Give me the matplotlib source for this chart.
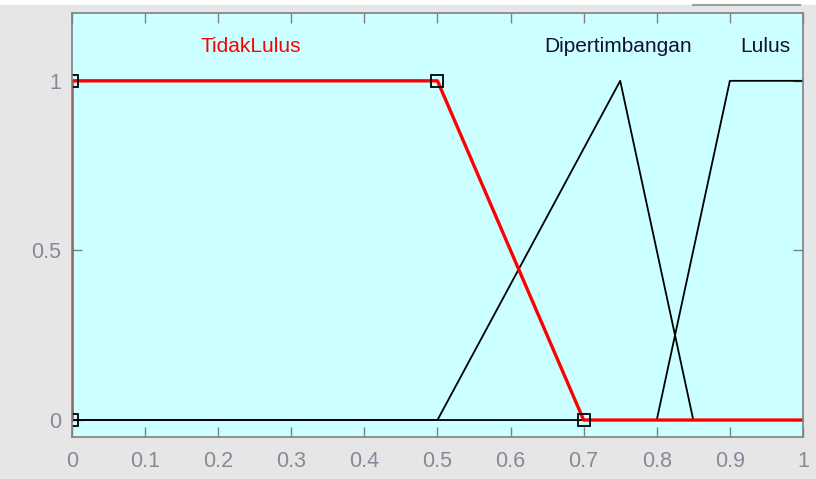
import matplotlib.pyplot as plt
from matplotlib.lines import Line2D

# membership function vertices (x, mu)
tidak_x = [0.0, 0.0, 0.5, 0.7, 1.0]
tidak_y = [0.0, 1.0, 1.0, 0.0, 0.0]
dipert_x = [0.0, 0.5, 0.75, 0.85, 1.0]
dipert_y = [0.0, 0.0, 1.0, 0.0, 0.0]
lulus_x = [0.0, 0.8, 0.9, 1.0]
lulus_y = [0.0, 0.0, 1.0, 1.0]

# square handles on the selected MF
handle_x = [0.0, 0.0, 0.5, 0.7]
handle_y = [0.0, 1.0, 1.0, 0.0]

labels = ["TidakLulus", "Dipertimbangan", "Lulus"]
label_x = [0.244, 0.747, 0.948]
label_y = [1.10, 1.10, 1.10]
label_colors = ["red", "#111133", "#111133"]

xticks = [0, 0.1, 0.2, 0.3, 0.4, 0.5, 0.6, 0.7, 0.8, 0.9, 1]
xticklabels = ["0", "0.1", "0.2", "0.3", "0.4", "0.5", "0.6", "0.7", "0.8", "0.9", "1"]
yticks = [0, 0.5, 1]
yticklabels = ["0", "0.5", "1"]

plt.rcParams['font.family'] = ['Liberation Sans', 'DejaVu Sans']

fig = plt.figure(figsize=(8.16, 4.79), dpi=100, facecolor="#e6e6e6")
ax = fig.add_axes([0.0882, 0.0877, 0.8958, 0.8852])
ax.set_facecolor("#ccffff")

ax.plot(dipert_x, dipert_y, color="black", lw=1.3)
ax.plot(lulus_x, lulus_y, color="black", lw=1.3)
ax.plot(tidak_x, tidak_y, color="red", lw=2.4)
ax.plot(handle_x, handle_y, ls="none", marker="s", ms=8, mfc="none",
        mec="black", mew=1.3)

for t, x, y, c in zip(labels, label_x, label_y, label_colors):
    ax.text(x, y, t, color=c, ha="center", va="center", fontsize=15)

ax.set_xlim(0, 1)
ax.set_ylim(-0.05, 1.2)
ax.set_xticks(xticks)
ax.set_xticklabels(xticklabels)
ax.set_yticks(yticks)
ax.set_yticklabels(yticklabels)
ax.tick_params(direction="in", length=7, width=1, color="#808080",
               labelcolor="#858a99", labelsize=15.5, top=True, right=True)
ax.tick_params(axis="x", pad=10)
ax.tick_params(axis="y", pad=8)
for s in ax.spines.values():
    s.set_color("#808080")
    s.set_linewidth(1.2)

# white strip and small frame edge at top of the screenshot
fig.add_artist(Line2D([0, 1], [0.995, 0.995], color="white", lw=4,
                      transform=fig.transFigure))
fig.add_artist(Line2D([693 / 816, 800 / 816], [0.989, 0.989], color="#a0a0a0",
                      lw=1.5, transform=fig.transFigure))

fig.savefig("out.png", dpi=100, facecolor=fig.get_facecolor())
